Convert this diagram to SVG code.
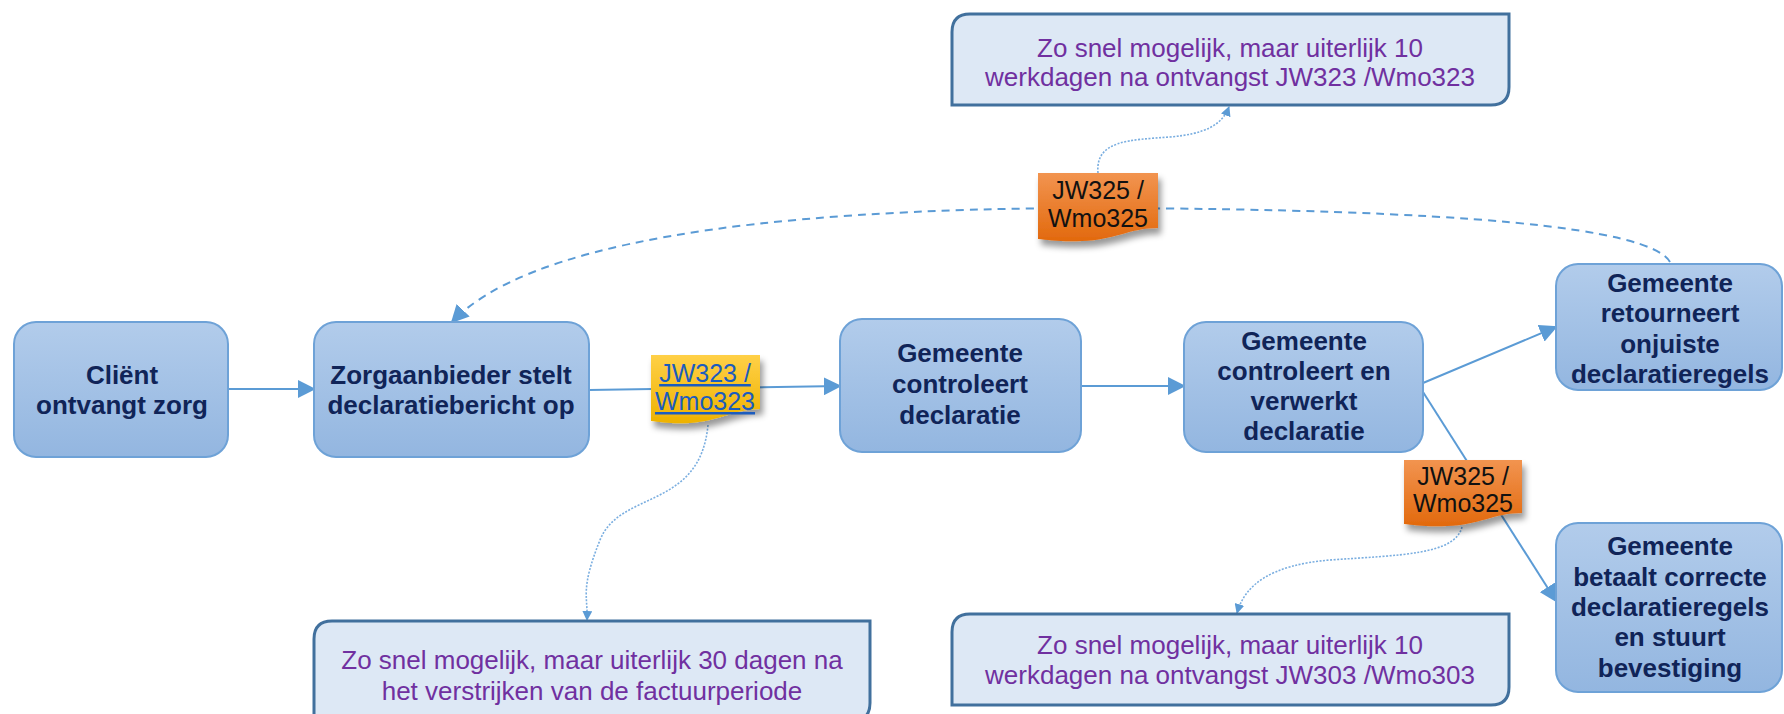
<svg xmlns="http://www.w3.org/2000/svg" width="1784" height="714" viewBox="0 0 1784 714">
<defs>
<linearGradient id="gBox" x1="0" y1="0" x2="0" y2="1"><stop offset="0" stop-color="#b2cceb"/><stop offset="1" stop-color="#93b6e0"/></linearGradient>
<linearGradient id="gYel" x1="0" y1="0" x2="0" y2="1"><stop offset="0" stop-color="#ffd047"/><stop offset="1" stop-color="#eeb200"/></linearGradient>
<linearGradient id="gOra" x1="0" y1="0" x2="0" y2="1"><stop offset="0" stop-color="#f29450"/><stop offset="1" stop-color="#e2690d"/></linearGradient>
<filter id="shadow" x="-20%" y="-20%" width="150%" height="160%"><feDropShadow dx="3" dy="6" stdDeviation="3" flood-color="#000" flood-opacity="0.4"/></filter>
<marker id="arr" viewBox="0 0 10 10" refX="9" refY="5" markerWidth="10" markerHeight="10" markerUnits="userSpaceOnUse" orient="auto"><path d="M0,0 L10,5 L0,10 Z" fill="#5b9bd5"/></marker>
<marker id="arrB" viewBox="0 0 10 10" refX="9" refY="5" markerWidth="18" markerHeight="18" markerUnits="userSpaceOnUse" orient="auto"><path d="M0,0 L10,5 L0,10 Z" fill="#5b9bd5"/></marker>
<style>
.box{fill:url(#gBox);stroke:#6ea2d7;stroke-width:2}
.note{fill:#dde8f5;stroke:#41709d;stroke-width:3}
.nt{font-family:"Liberation Sans",Arial,sans-serif;font-weight:bold;font-size:26px;fill:#102458;text-anchor:middle}
.pt{font-family:"Liberation Sans",Arial,sans-serif;font-size:26px;fill:#7030a0;text-anchor:middle}
.tt{font-family:"Liberation Sans",Arial,sans-serif;font-size:25px;fill:#111;text-anchor:middle}
.lt{font-family:"Liberation Sans",Arial,sans-serif;font-size:25px;fill:#1b5cbf;text-anchor:middle;text-decoration:underline}
.c{fill:none;stroke:#5b9bd5;stroke-width:2}
.dash{fill:none;stroke:#5b9bd5;stroke-width:2;stroke-dasharray:8 6}
.dot{fill:none;stroke:#7aaee0;stroke-width:1.6;stroke-dasharray:2 1.5}
</style>
</defs>
<rect width="1784" height="714" fill="#fff"/>
<g id="connectors">
<path class="c" d="M228,389 H314" marker-end="url(#arrB)"/>
<path class="c" d="M589,390 L840,386" marker-end="url(#arrB)"/>
<path class="c" d="M1081,386 H1184" marker-end="url(#arrB)"/>
<path class="c" d="M1423,383 L1556,327" marker-end="url(#arrB)"/>
<path class="c" d="M1423,392 L1556,601" marker-end="url(#arrB)"/>
<path class="dash" d="M1670,262 Q1640,210 1100,208 Q560,208 452,322" marker-end="url(#arrB)"/>
<path class="dot" d="M708,425 C700,510 620,490 600,540 S588,595 587,620" marker-end="url(#arr)"/>
<path class="dot" d="M1098,173 C1095,140 1130,140 1170,137 C1205,134 1222,125 1229,107" marker-end="url(#arr)"/>
<path class="dot" d="M1462,527 C1455,555 1400,555 1330,560 C1270,565 1245,585 1237,613" marker-end="url(#arr)"/>
</g>
<g id="n-client"><rect class="box" x="14" y="322" width="214" height="135" rx="22"/><text class="nt" x="122" y="384">Cliënt</text><text class="nt" x="122" y="414">ontvangt zorg</text></g>
<g id="n-zorg"><rect class="box" x="314" y="322" width="275" height="135" rx="22"/><text class="nt" x="451" y="384">Zorgaanbieder stelt</text><text class="nt" x="451" y="414">declaratiebericht op</text></g>
<g id="n-controleert"><rect class="box" x="840" y="319" width="241" height="133" rx="22"/><text class="nt" x="960" y="362">Gemeente</text><text class="nt" x="960" y="393">controleert</text><text class="nt" x="960" y="424">declaratie</text></g>
<g id="n-verwerkt"><rect class="box" x="1184" y="322" width="239" height="130" rx="22"/><text class="nt" x="1304" y="350">Gemeente</text><text class="nt" x="1304" y="380">controleert en</text><text class="nt" x="1304" y="410">verwerkt</text><text class="nt" x="1304" y="440">declaratie</text></g>
<g id="n-retour"><rect class="box" x="1556" y="264" width="226" height="126" rx="22"/><text class="nt" x="1670" y="292">Gemeente</text><text class="nt" x="1670" y="322">retourneert</text><text class="nt" x="1670" y="353">onjuiste</text><text class="nt" x="1670" y="383">declaratieregels</text></g>
<g id="n-betaalt"><rect class="box" x="1556" y="523" width="226" height="169" rx="22"/><text class="nt" x="1670" y="555">Gemeente</text><text class="nt" x="1670" y="586">betaalt correcte</text><text class="nt" x="1670" y="616">declaratieregels</text><text class="nt" x="1670" y="646">en stuurt</text><text class="nt" x="1670" y="677">bevestiging</text></g>
<g id="note-top"><path class="note" d="M970,14 H1509 V87 Q1509,105 1491,105 H952 V32 Q952,14 970,14 Z"/><text class="pt" x="1230" y="57">Zo snel mogelijk, maar uiterlijk 10</text><text class="pt" x="1230" y="86">werkdagen na ontvangst JW323 /Wmo323</text></g>
<g id="note-bl"><path class="note" d="M332,621 H870 V703 Q870,721 852,721 H314 V639 Q314,621 332,621 Z"/><text class="pt" x="592" y="669">Zo snel mogelijk, maar uiterlijk 30 dagen na</text><text class="pt" x="592" y="700">het verstrijken van de factuurperiode</text></g>
<g id="note-br"><path class="note" d="M970,614 H1509 V687 Q1509,705 1491,705 H952 V632 Q952,614 970,614 Z"/><text class="pt" x="1230" y="654">Zo snel mogelijk, maar uiterlijk 10</text><text class="pt" x="1230" y="684">werkdagen na ontvangst JW303 /Wmo303</text></g>
<g id="tag-323"><path d="M651,355 H760 V409 C735,409 720,421 690,423 C672,424 660,422 651,421 Z" fill="url(#gYel)" filter="url(#shadow)"/><text class="lt" x="705" y="382">JW323 /</text><text class="lt" x="705" y="410">Wmo323</text></g>
<g id="tag-325-top"><path d="M1038,173 H1158 V228 C1130,228 1115,240 1082,241 C1062,242 1048,240 1038,239 Z" fill="url(#gOra)" filter="url(#shadow)"/><text class="tt" x="1098" y="199">JW325 /</text><text class="tt" x="1098" y="227">Wmo325</text></g>
<g id="tag-325-right"><path d="M1404,460 H1522 V513 C1494,513 1480,525 1447,526 C1427,527 1413,525 1404,524 Z" fill="url(#gOra)" filter="url(#shadow)"/><text class="tt" x="1463" y="485">JW325 /</text><text class="tt" x="1463" y="512">Wmo325</text></g>
</svg>
